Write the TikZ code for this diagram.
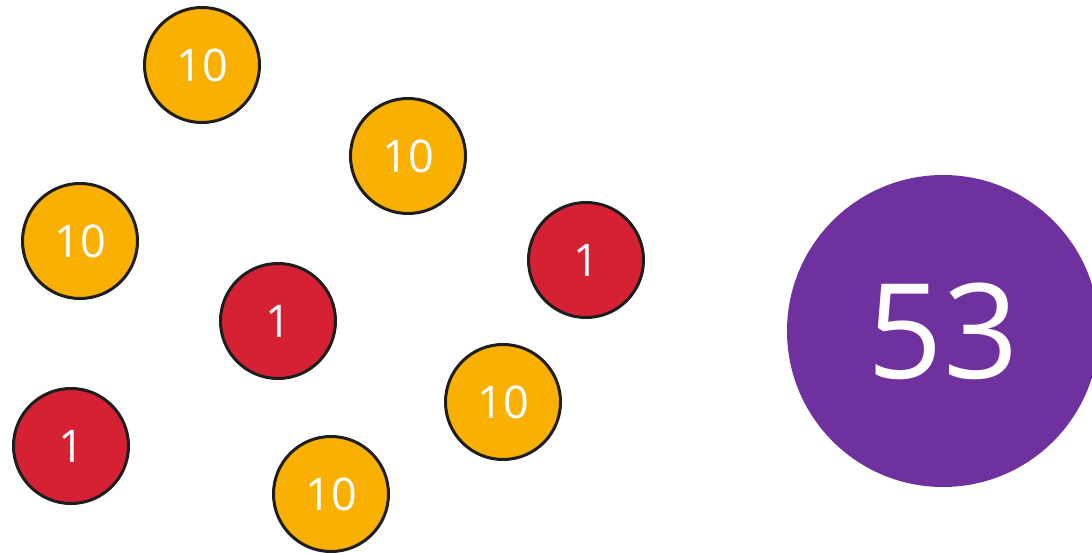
\documentclass[tikz,border=0pt]{standalone}
\usepackage{fontspec}
\setmainfont{Open Sans}
\definecolor{tenyellow}{HTML}{F9B000}
\definecolor{onered}{HTML}{D62135}
\definecolor{sumpurple}{HTML}{6F319E}
\definecolor{rimgray}{HTML}{1E1E1E}
\tikzset{
  coin/.style={circle,draw=rimgray,line width=3pt,minimum size=115pt,inner sep=0pt,
    text=white,font=\fontsize{45}{45}\selectfont},
  tencoin/.style={coin,fill=tenyellow},
  onecoin/.style={coin,fill=onered},
  total/.style={circle,fill=sumpurple,minimum size=312pt,inner sep=0pt,
    text=white,font=\fontsize{132}{132}\selectfont}
}
\begin{document}
\begin{tikzpicture}[x=1pt,y=-1pt]
\useasboundingbox (0,0) rectangle (1092,553);
\clip (0,0) rectangle (1092,553);
\node[tencoin] (ta) at (202,65) {10};
\node[tencoin] (tb) at (408,156) {10};
\node[tencoin] (tc) at (80,241) {10};
\node[tencoin] (td) at (503,402) {10};
\node[tencoin] (te) at (331,494) {10};
\node[onecoin] (oa) at (586,260) {1};
\node[onecoin] (ob) at (278,321) {1};
\node[onecoin] (oc) at (71,446) {1};
\node[total] (sum) at (943,331) {53};
\end{tikzpicture}
\end{document}
